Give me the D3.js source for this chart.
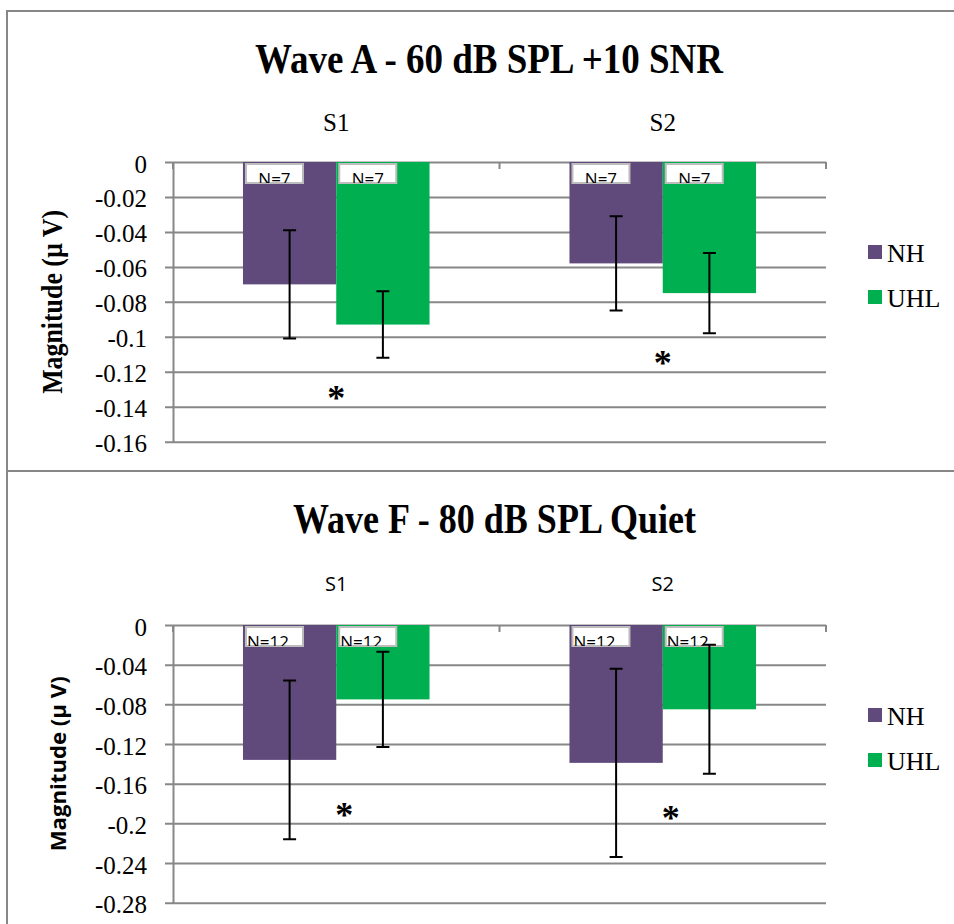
<!DOCTYPE html>
<html>
<head>
<meta charset="utf-8">
<script src="https://cdn.jsdelivr.net/npm/d3@7"></script>
<style>
  body { margin: 0; background: #fff; }
  svg { display: block; }
</style>
</head>
<body>
<script>
// ---------------- data ----------------
const categories = ["S1", "S2"];
const groups = ["NH", "UHL"];

// Wave A - 60 dB SPL +10 SNR
const waveA_NH = [-0.070, -0.058];
const waveA_UHL = [-0.093, -0.075];
const waveA_NH_err = [0.031, 0.027];
const waveA_UHL_err = [0.019, 0.023];
const waveA_NH_n = [7, 7];
const waveA_UHL_n = [7, 7];
const waveA_ticks = [0, -0.02, -0.04, -0.06, -0.08, -0.1, -0.12, -0.14, -0.16];
const waveA_stars = [-0.132, -0.112];

// Wave F - 80 dB SPL Quiet
const waveF_NH = [-0.136, -0.139];
const waveF_UHL = [-0.075, -0.085];
const waveF_NH_err = [0.080, 0.095];
const waveF_UHL_err = [0.048, 0.065];
const waveF_NH_n = [12, 12];
const waveF_UHL_n = [12, 12];
const waveF_ticks = [0, -0.04, -0.08, -0.12, -0.16, -0.2, -0.24, -0.28];
const waveF_stars = [-0.1865, -0.19];

// ---------------- layout ----------------
const width = 954;
const height = 924;
const plotLeft = 173;
const plotRight = 826;
const colors = { NH: "#604a7b", UHL: "#00b050" };
const gridColor = "#878787";
const serif = "'Liberation Serif', 'Times New Roman', serif";
const sans = "'Open Sans', 'Noto Sans', sans-serif";

const fmt = d => d === 0 ? "0" : String(+d.toFixed(2));

const svg = d3.select("body").append("svg")
    .attr("width", width)
    .attr("height", height);

svg.append("rect").attr("width", width).attr("height", height).attr("fill", "#fff");

// outer frames
svg.append("path")
    .attr("d", "M7,924 V11 H954 M7,471 H954")
    .attr("fill", "none")
    .attr("stroke", gridColor)
    .attr("stroke-width", 2);

const panels = [
  {
    title: "Wave A - 60 dB SPL +10 SNR", titleX: 489, titleY: 72.7, titleLen: 468,
    top: 162, bottom: 441.7, min: -0.16, ticks: waveA_ticks,
    catFont: serif, catSize: 25, catPad: 31,
    axisFont: serif, axisSize: 29, axisX: 62, axisLen: 184,
    values: { NH: waveA_NH, UHL: waveA_UHL },
    errs: { NH: waveA_NH_err, UHL: waveA_UHL_err },
    n: { NH: waveA_NH_n, UHL: waveA_UHL_n },
    stars: waveA_stars, starDx: 0, labelAlign: "middle"
  },
  {
    title: "Wave F - 80 dB SPL Quiet", titleX: 494.5, titleY: 532.7, titleLen: 403,
    top: 625, bottom: 902.7, min: -0.28, ticks: waveF_ticks,
    catFont: sans, catSize: 20, catPad: 34,
    axisFont: sans, axisSize: 22, axisX: 66, axisLen: 175,
    values: { NH: waveF_NH, UHL: waveF_UHL },
    errs: { NH: waveF_NH_err, UHL: waveF_UHL_err },
    n: { NH: waveF_NH_n, UHL: waveF_UHL_n },
    stars: waveF_stars, starDx: 8, labelAlign: "start"
  }
];

panels.forEach((p, pi) => drawPanel(p, pi));

function drawPanel(p, pi) {
  const g = svg.append("g");

  const x = d3.scaleBand().domain(categories).range([plotLeft, plotRight]);
  const xs = d3.scaleBand().domain(groups).range([0, x.bandwidth()]).paddingOuter(0.75);
  const y = d3.scaleLinear().domain([p.min, 0]).range([p.bottom, p.top]);

  //------------------- gridlines + value axis -------------------//
  const yAxis = d3.axisLeft(y)
      .tickValues(p.ticks)
      .tickSizeInner(-(plotRight - plotLeft))
      .tickSizeOuter(0)
      .tickPadding(26)
      .tickFormat(fmt);

  const ga = g.append("g")
      .attr("transform", `translate(${plotLeft},0)`)
      .call(yAxis);
  ga.select(".domain").attr("stroke", gridColor).attr("stroke-width", 2);
  ga.selectAll(".tick line")
      .attr("x1", -8)
      .attr("stroke", gridColor)
      .attr("stroke-width", 2);
  ga.selectAll(".tick text")
      .attr("dy", "0.4em")
      .attr("fill", "#000")
      .style("font-family", serif)
      .style("font-size", "25px");

  //------------------- category axis (top) -------------------//
  const xAxis = d3.axisTop(x).tickSize(0).tickPadding(p.catPad);
  const gx = g.append("g")
      .attr("transform", `translate(0,${p.top})`)
      .call(xAxis);
  gx.select(".domain").remove();
  gx.selectAll(".tick text")
      .attr("fill", "#000")
      .style("font-family", p.catFont)
      .style("font-size", p.catSize + "px");

  g.selectAll(".sep")
    .data(categories.map(c => x(c)).concat([plotRight]))
    .join("line")
      .attr("x1", d => d).attr("x2", d => d)
      .attr("y1", p.top).attr("y2", p.top + 7)
      .attr("stroke", gridColor)
      .attr("stroke-width", 2);

  //------------------- bars -------------------//
  const cells = [];
  groups.forEach(grp => {
    categories.forEach((c, i) => {
      cells.push({
        grp: grp, cat: c,
        value: p.values[grp][i],
        err: p.errs[grp][i],
        n: p.n[grp][i]
      });
    });
  });

  g.selectAll(".bar")
    .data(cells)
    .join("rect")
      .attr("x", d => x(d.cat) + xs(d.grp))
      .attr("y", y(0))
      .attr("width", xs.bandwidth())
      .attr("height", d => y(d.value) - y(0))
      .attr("fill", d => colors[d.grp]);

  //------------------- N labels -------------------//
  const boxW = 57, boxH = 19;
  const labels = g.selectAll(".nlab")
    .data(cells)
    .join("g")
      .attr("transform", d => `translate(${x(d.cat) + xs(d.grp) + 3},${y(0) + 2})`);

  labels.append("clipPath")
      .attr("id", (d, i) => `clip${pi}_${i}`)
    .append("rect")
      .attr("width", boxW).attr("height", boxH);

  labels.append("rect")
      .attr("width", boxW).attr("height", boxH)
      .attr("fill", "#fff")
      .attr("stroke", "#bdbdbd")
      .attr("stroke-width", 2);

  labels.append("text")
      .attr("clip-path", (d, i) => `url(#clip${pi}_${i})`)
      .attr("x", p.labelAlign === "middle" ? boxW / 2 : 1)
      .attr("y", boxH + 1.5)
      .attr("text-anchor", p.labelAlign)
      .style("font-family", sans)
      .style("font-size", "17px")
      .text(d => "N=" + d.n);

  //------------------- error bars -------------------//
  const cap = 6.5;
  g.selectAll(".err")
    .data(cells)
    .join("path")
      .attr("d", d => {
        const cx = x(d.cat) + xs(d.grp) + xs.bandwidth() / 2;
        const y1 = y(d.value + d.err), y2 = y(d.value - d.err);
        return `M${cx},${y1}V${y2}M${cx - cap},${y1}H${cx + cap}M${cx - cap},${y2}H${cx + cap}`;
      })
      .attr("fill", "none")
      .attr("stroke", "#000")
      .attr("stroke-width", 2);

  //------------------- significance stars -------------------//
  g.selectAll(".star")
    .data(p.stars)
    .join("text")
      .attr("x", (d, i) => x(categories[i]) + x.bandwidth() / 2 + p.starDx)
      .attr("y", d => y(d) + 17)
      .attr("text-anchor", "middle")
      .style("font-family", serif)
      .style("font-weight", "bold")
      .style("font-size", "36px")
      .text("*");

  //------------------- legend -------------------//
  const lg = g.selectAll(".leg")
    .data(groups)
    .join("g")
      .attr("transform", (d, i) => `translate(868,${p.top + 83 + i * 45})`);
  lg.append("rect").attr("width", 14).attr("height", 14).attr("fill", d => colors[d]);
  lg.append("text")
      .attr("x", 19).attr("y", 17)
      .style("font-family", serif)
      .style("font-size", "26px")
      .text(d => d);

  //------------------- titles -------------------//
  g.append("text")
      .attr("x", p.titleX).attr("y", p.titleY)
      .attr("text-anchor", "middle")
      .attr("textLength", p.titleLen)
      .attr("lengthAdjust", "spacingAndGlyphs")
      .style("font-family", serif)
      .style("font-weight", "bold")
      .style("font-size", "42px")
      .text(p.title);

  g.append("text")
      .attr("transform", `translate(${p.axisX},${(p.top + p.bottom) / 2}) rotate(-90)`)
      .attr("text-anchor", "middle")
      .attr("textLength", p.axisLen)
      .attr("lengthAdjust", "spacingAndGlyphs")
      .style("font-family", p.axisFont)
      .style("font-weight", "bold")
      .style("font-size", p.axisSize + "px")
      .text("Magnitude (µ V)");
}
</script>
</body>
</html>
